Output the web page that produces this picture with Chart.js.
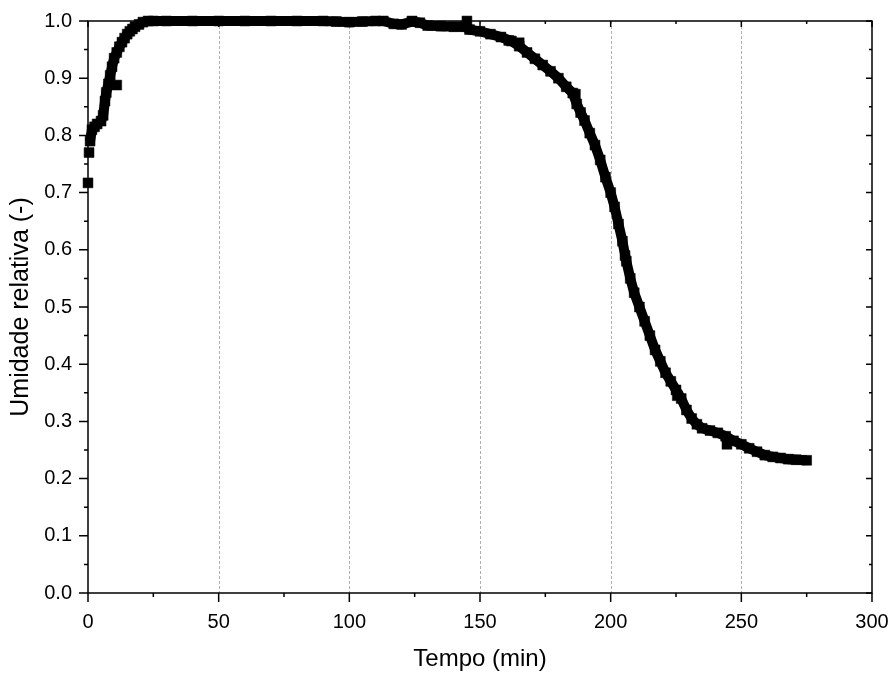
<!DOCTYPE html>
<html>
<head>
<meta charset="utf-8">
<script src="https://cdn.jsdelivr.net/npm/chart.js@4"></script>
<style>
  html, body { margin: 0; padding: 0; background: #fff; }
  #wrap { width: 893px; height: 674px; }
</style>
</head>
<body>
<div id="wrap"><canvas id="chart" width="893" height="674"></canvas></div>
<script>
// main humidity curve
const timeMin = [0.8, 1.5, 2.5, 3.5, 5, 5.8, 6.5, 7, 7.8, 8.5, 9.2, 10, 11, 12, 13, 14, 15, 16, 17, 18, 19.5, 21, 23,
    25, 30, 40, 50, 60, 70, 80, 90, 95, 100, 105, 110, 113, 117, 120, 124, 127, 130, 135, 140, 144,
    146, 150, 154, 158, 162, 165, 168, 171, 174, 177, 180, 183, 185.5, 187, 188.5, 190, 192, 194, 196, 198,
    200, 201.5, 203, 204.5, 206, 207.5, 209, 211, 213, 215, 217, 219, 221, 223, 225, 227, 229, 231, 233, 235,
    238, 241, 244, 247, 250, 253, 256, 259, 262, 265, 268, 271, 275];
const humidity = [0.79, 0.81, 0.815, 0.82, 0.825, 0.835, 0.86, 0.875, 0.89, 0.905, 0.92, 0.935, 0.945, 0.955, 0.963, 0.97, 0.977, 0.982, 0.986, 0.99, 0.994, 0.998, 1.0,
    1.0, 1.0, 1.0, 1.0, 1.0, 1.0, 1.0, 1.0, 0.999, 0.998, 0.999, 1.0, 1.0, 0.995, 0.994, 0.999, 0.997, 0.992, 0.991, 0.99, 0.99,
    0.985, 0.982, 0.977, 0.972, 0.965, 0.956, 0.945, 0.934, 0.923, 0.912, 0.9, 0.885, 0.874, 0.855, 0.84, 0.826, 0.804, 0.783, 0.757, 0.727,
    0.7, 0.675, 0.645, 0.615, 0.58, 0.55, 0.525, 0.5, 0.475, 0.45, 0.425, 0.405, 0.385, 0.37, 0.355, 0.34, 0.32, 0.305, 0.295, 0.288,
    0.284, 0.28, 0.274, 0.266, 0.26, 0.253, 0.247, 0.241, 0.238, 0.236, 0.234, 0.233, 0.232];

// scattered points that sit off the main band
const strayTime = [0, 0.4, 11, 124, 145, 161, 165, 186.5, 205.5, 225.5, 244.5];
const strayHumidity = [0.717, 0.77, 0.888, 1.0, 1.0, 0.966, 0.962, 0.872, 0.59, 0.345, 0.26];

const xTicks = [0, 50, 100, 150, 200, 250, 300];
const yTicks = [0, 0.1, 0.2, 0.3, 0.4, 0.5, 0.6, 0.7, 0.8, 0.9, 1.0];

const mainPoints = timeMin.map((t, i) => ({x: t, y: humidity[i]}));
const strayPoints = strayTime.map((t, i) => ({x: t, y: strayHumidity[i]}));

const fontFamily = "'Liberation Sans', Arial, sans-serif";

// frame, ticks (major + minor) and dashed vertical grid, drawn under the markers
const frameAndTicks = {
    id: 'frameAndTicks',
    beforeDatasetsDraw: function(chart) {
        const ctx = chart.ctx;
        const a = chart.chartArea;
        const xs = chart.scales.x, ys = chart.scales.y;
        ctx.save();

        // dashed grid at the inner x ticks
        ctx.strokeStyle = '#b0b0b0';
        ctx.lineWidth = 1;
        ctx.setLineDash([3, 2]);
        for (let v = 50; v < 300; v += 50) {
            const px = Math.round(xs.getPixelForValue(v)) + 0.5;
            ctx.beginPath();
            ctx.moveTo(px, a.top);
            ctx.lineTo(px, a.bottom);
            ctx.stroke();
        }
        ctx.setLineDash([]);

        ctx.strokeStyle = '#000';
        ctx.lineWidth = 1.5;
        ctx.strokeRect(a.left, a.top, a.right - a.left, a.bottom - a.top);

        ctx.beginPath();
        for (let v = 0; v <= 300; v += 25) {
            const px = xs.getPixelForValue(v);
            const major = v % 50 === 0;
            ctx.moveTo(px, a.bottom);
            ctx.lineTo(px, a.bottom + (major ? 9 : 4));
            ctx.moveTo(px, a.top);
            ctx.lineTo(px, a.top + (major ? 6 : 3));
        }
        for (let i = 0; i <= 20; i++) {
            const py = ys.getPixelForValue(i * 0.05);
            const major = i % 2 === 0;
            ctx.moveTo(a.left, py);
            ctx.lineTo(a.left - (major ? 9 : 4), py);
            ctx.moveTo(a.right, py);
            ctx.lineTo(a.right - (major ? 6 : 3), py);
        }
        ctx.stroke();
        ctx.restore();
    }
};

// keep the plot box where the reference has it
function noScalePadding(scale) {
    scale.paddingLeft = 0;
    scale.paddingRight = 0;
    scale.paddingTop = 0;
    scale.paddingBottom = 0;
}

new Chart(document.getElementById('chart'), {
    type: 'scatter',
    plugins: [frameAndTicks],
    data: {
        datasets: [{
            data: mainPoints,
            showLine: true,
            borderColor: '#000',
            borderWidth: 10,
            backgroundColor: '#000',
            pointStyle: 'rect',
            pointRadius: 7,
            pointBorderWidth: 0.5,
            pointBorderColor: '#000',
            clip: false
        }, {
            data: strayPoints,
            showLine: false,
            backgroundColor: '#000',
            pointStyle: 'rect',
            pointRadius: 7,
            pointBorderWidth: 0.5,
            pointBorderColor: '#000',
            clip: false
        }]
    },
    options: {
        responsive: false,
        animation: false,
        events: [],
        layout: { padding: { left: 0, right: 21, top: 21, bottom: 0 } },
        plugins: {
            legend: { display: false },
            tooltip: { enabled: false }
        },
        scales: {
            x: {
                type: 'linear',
                min: 0,
                max: 300,
                afterBuildTicks: function(scale) {
                    scale.ticks = xTicks.map(v => ({value: v}));
                },
                afterFit: function(scale) { scale.height = 81; noScalePadding(scale); },
                grid: { display: false, drawTicks: false },
                border: { display: false },
                ticks: {
                    color: '#000',
                    padding: 17,
                    font: { family: fontFamily, size: 20 },
                    maxRotation: 0
                },
                title: {
                    display: true,
                    text: 'Tempo (min)',
                    color: '#000',
                    font: { family: fontFamily, size: 24 },
                    padding: { top: 0, bottom: 0 }
                }
            },
            y: {
                type: 'linear',
                min: 0,
                max: 1,
                afterBuildTicks: function(scale) {
                    scale.ticks = yTicks.map(v => ({value: v}));
                },
                afterFit: function(scale) { scale.width = 88; noScalePadding(scale); },
                grid: { display: false, drawTicks: false },
                border: { display: false },
                ticks: {
                    color: '#000',
                    padding: 16,
                    font: { family: fontFamily, size: 20 },
                    callback: function(value) { return value.toFixed(1); }
                },
                title: {
                    display: true,
                    text: 'Umidade relativa (-)',
                    color: '#000',
                    font: { family: fontFamily, size: 25 },
                    padding: { top: 6, bottom: 0 }
                }
            }
        }
    }
});
</script>
</body>
</html>
